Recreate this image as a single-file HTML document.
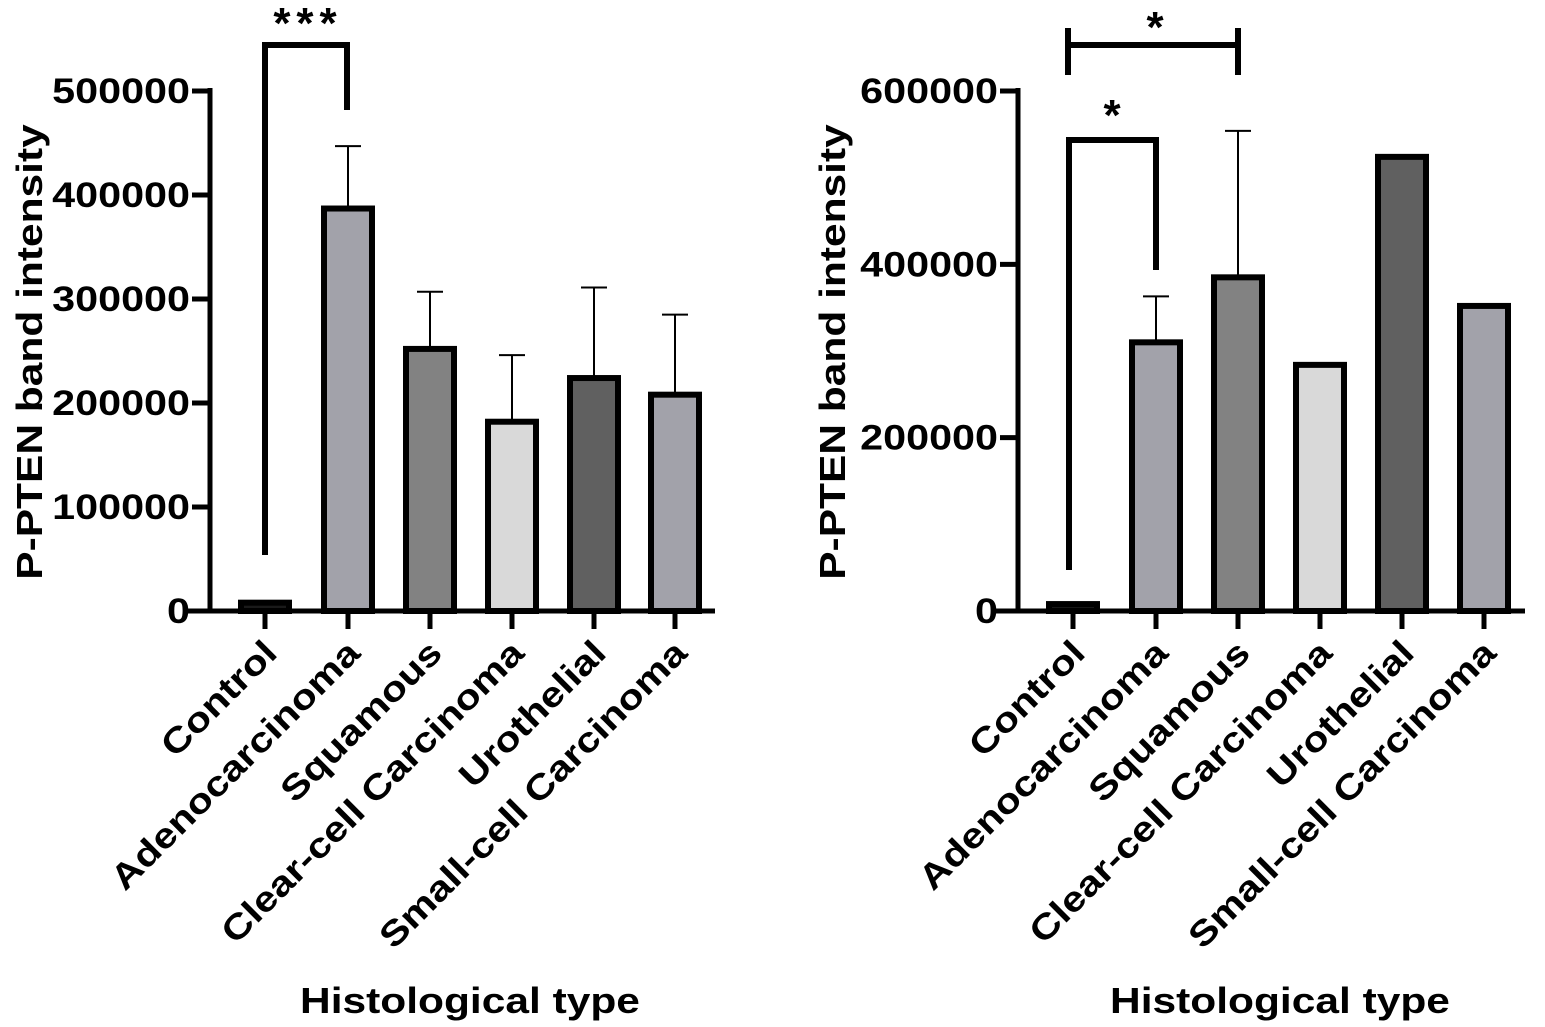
<!DOCTYPE html>
<html><head><meta charset="utf-8"><style>
body{margin:0;background:#fff;}
svg{display:block;font-family:"Liberation Sans",sans-serif;font-weight:bold;}
</style></head><body>
<svg id="c" width="1545" height="1027"></svg>
<script>
const categories=["Control","Adenocarcinoma","Squamous","Clear-cell Carcinoma","Urothelial","Small-cell Carcinoma"];
const fills=["#1a1a1a","#a2a2aa","#828282","#d9d9d9","#606060","#a2a2aa"];
const leftValues=[8000,387000,252000,182000,224000,208000];
const leftErrors=[null,447000,307000,246000,311000,285000];
const leftTicks=[0,100000,200000,300000,400000,500000];
const rightValues=[8000,310000,385000,284000,524000,352000];
const rightErrors=[null,363000,554000,null,null,null];
const rightTicks=[0,200000,400000,600000];
const svg=document.getElementById('c');
const NS='http://www.w3.org/2000/svg';
function mk(t,a,txt){const e=document.createElementNS(NS,t);for(const k in a)e.setAttribute(k,a[k]);if(txt!=null)e.textContent=txt;svg.appendChild(e);return e;}
function stretch(e,f){const w=e.getComputedTextLength();e.setAttribute('textLength',w*f);e.setAttribute('lengthAdjust','spacingAndGlyphs');}
const FS=35,SF=1.18;
function panel(p,vals,errs,ticks,max,x0,x1,centers,titleX,xtitleX){
  const y=v=>611-v/max*520;
  const ax=mk('line',{x1:x0,y1:88,x2:x0,y2:613,stroke:'#000','stroke-width':5});
  
  const xa=mk('line',{x1:x0-22,y1:611,x2:x1,y2:611,stroke:'#000','stroke-width':5});
  
  ticks.forEach(t=>{
    const l=mk('line',{x1:x0-18,y1:y(t),x2:x0,y2:y(t),stroke:'#000','stroke-width':5});
    
    const tx=mk('text',{x:x0-20,y:y(t)+12,'text-anchor':'end','font-size':FS},String(t));
    
    stretch(tx,SF);
  });
  vals.forEach((v,i)=>{
    const cx=centers[i];
    if(errs[i]!=null){
      const e=mk('line',{x1:cx,y1:y(errs[i]),x2:cx,y2:y(v),stroke:'#000','stroke-width':2});
      
      const c=mk('line',{x1:cx-13,y1:y(errs[i]),x2:cx+13,y2:y(errs[i]),stroke:'#000','stroke-width':2});
      
    }
    const r=mk('rect',{x:cx-24,y:y(v),width:48,height:611-y(v),fill:fills[i],stroke:'#000','stroke-width':6});
    
    const tk=mk('line',{x1:cx,y1:611,x2:cx,y2:629,stroke:'#000','stroke-width':5});
    
    const lb=mk('text',{x:cx+14,y:655,'text-anchor':'end','font-size':FS,transform:`rotate(-45 ${cx+14} 655)`},categories[i]);
    
    stretch(lb,SF);
  });
  const yt=mk('text',{x:titleX,y:352,'text-anchor':'middle','font-size':FS+1,transform:`rotate(-90 ${titleX} 352)`},'P-PTEN band intensity');
  
  stretch(yt,SF);
  const xt=mk('text',{x:xtitleX,y:1013,'text-anchor':'middle','font-size':FS+1},'Histological type');
  
  stretch(xt,SF);
}
panel('left',leftValues,leftErrors,leftTicks,500000,210,715,[265,348,430,512,594,675],42,470);
panel('right',rightValues,rightErrors,rightTicks,600000,1018,1525,[1073,1156,1238,1320,1402,1484],845,1280);
let b=mk('polyline',{points:'265,555 265,45 347,45 347,110',fill:'none',stroke:'#000','stroke-width':6});

let s=mk('text',{x:308,y:38,'text-anchor':'middle','font-size':44,'letter-spacing':'6'},'***');

b=mk('polyline',{points:'1069,570 1069,140 1156,140 1156,270',fill:'none',stroke:'#000','stroke-width':6});

s=mk('text',{x:1112,y:130,'text-anchor':'middle','font-size':44},'*');

b=mk('path',{d:'M1068,45 H1238 M1068,28 V75 M1238,28 V75',fill:'none',stroke:'#000','stroke-width':6});

s=mk('text',{x:1155,y:42,'text-anchor':'middle','font-size':44},'*');

</script>
</body></html>
